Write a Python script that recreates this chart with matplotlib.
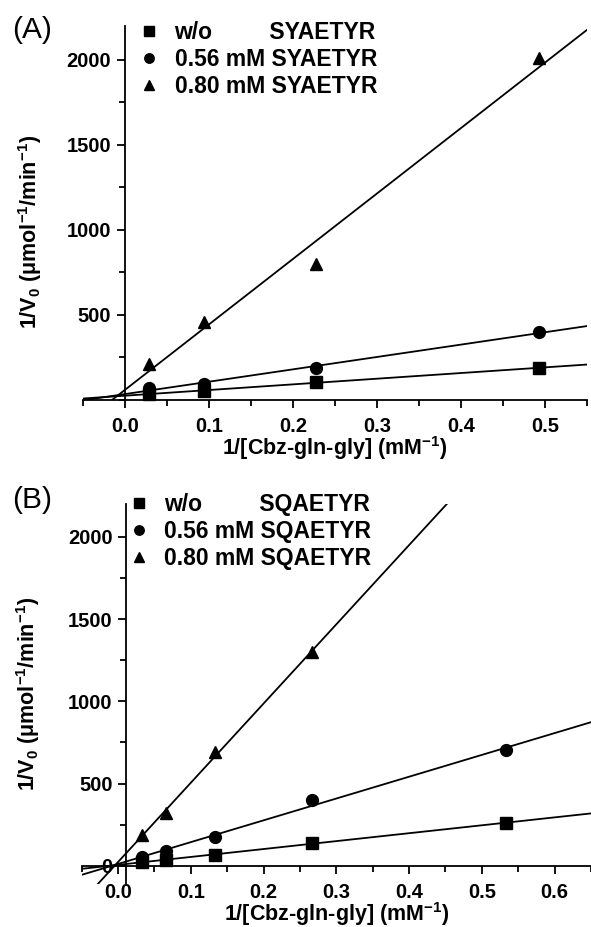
import numpy as np
import matplotlib
matplotlib.use('Agg')
import matplotlib.pyplot as plt
from matplotlib.ticker import MultipleLocator, FixedLocator

plt.rcParams['font.family'] = ['Liberation Sans', 'DejaVu Sans']
plt.rcParams['font.weight'] = 'bold'
plt.rcParams['mathtext.fontset'] = 'custom'
plt.rcParams['mathtext.rm'] = 'Liberation Sans:bold'
plt.rcParams['mathtext.it'] = 'Liberation Sans:bold'
plt.rcParams['mathtext.bf'] = 'Liberation Sans:bold'

# Panel A: SYAETYR
xa = [0.028, 0.094, 0.227, 0.493]
a_wo = [35, 53, 106, 188]
a_056 = [70, 94, 188, 400]
a_080 = [212, 459, 800, 2010]

# Panel B: SQAETYR
xb = [0.0333, 0.0667, 0.1333, 0.2667, 0.5333]
b_wo = [24, 36, 67, 140, 261]
b_056 = [55, 91, 176, 401, 705]
xb_080 = [0.0333, 0.0667, 0.1333, 0.2667]
b_080 = [188, 322, 690, 1300]

markers = ['s', 'o', '^']
conc = ['w/o         ', '0.56 mM ', '0.80 mM ']

xlabel = '1/[Cbz-gln-gly] (mM$^{-1}$)'
ylabel = '1/V$_0$ (μmol$^{-1}$/min$^{-1}$)'

fig = plt.figure(figsize=(5.91, 9.27), dpi=100)


def panel(ax, xs, ys, peptide, xlim, ylim, yspine_x, yticks, letter, leg_anchor, letter_y):
    ax.set_xlim(*xlim)
    ax.set_ylim(*ylim)
    xx = np.array(xlim)
    for x, y, m, c in zip(xs, ys, markers, conc):
        ax.plot(x, y, m, color='black', ms=8.5, linestyle='none',
                label=c + peptide, clip_on=False)
        # least-squares line through each series
        k, b = np.polyfit(x, y, 1)
        ax.plot(xx, k * xx + b, color='black', lw=1.3)
    ax.spines['top'].set_visible(False)
    ax.spines['right'].set_visible(False)
    ax.spines['left'].set_position(('data', yspine_x))
    ax.spines['bottom'].set_position(('data', 0))
    for s in ('left', 'bottom'):
        ax.spines[s].set_linewidth(1.3)
    ax.xaxis.set_major_locator(MultipleLocator(0.1))
    ax.xaxis.set_minor_locator(MultipleLocator(0.05))
    ax.yaxis.set_major_locator(FixedLocator(yticks))
    ax.yaxis.set_minor_locator(MultipleLocator(250))
    ax.tick_params(which='major', direction='out', length=6, width=1.3,
                   labelsize=14.5, pad=4)
    ax.tick_params(axis='x', which='major', pad=6)
    ax.tick_params(which='minor', direction='out', length=4, width=1.3)
    ax.xaxis.set_major_formatter(plt.FuncFormatter(lambda v, p: f'{v:.1f}'))
    ax.yaxis.set_major_formatter(plt.FuncFormatter(lambda v, p: f'{v:.0f}'))
    ax.set_xlabel(xlabel, fontsize=15.5, fontweight='bold', labelpad=-1)
    ax.set_ylabel(ylabel, fontsize=15.5, fontweight='bold')
    ax.legend(loc='upper left', bbox_to_anchor=leg_anchor,
              bbox_transform=fig.transFigure, frameon=False, fontsize=16.5,
              handlelength=0.6, handletextpad=0.8, labelspacing=0.17,
              markerscale=0.8, borderpad=0, borderaxespad=0)
    fig.text(0.02, letter_y, letter, fontsize=21.5,
             fontweight='normal', va='top')


ax1 = fig.add_axes([0.1404, 0.5685, 0.853, 0.4035])
panel(ax1, [xa, xa, xa], [a_wo, a_056, a_080], 'SYAETYR',
      (-0.05, 0.55), (0, 2200), 0.0, [500, 1000, 1500, 2000], '(A)',
      (0.241, 0.977), 0.983)
ax1.yaxis.set_label_coords(-0.078, 0.45)

ax2 = fig.add_axes([0.138, 0.0464, 0.862, 0.41])
panel(ax2, [xb, xb, xb_080], [b_wo, b_056, b_080], 'SQAETYR',
      (-0.05, 0.65), (-110, 2200), 0.0115, [0, 500, 1000, 1500, 2000], '(B)',
      (0.223, 0.468), 0.476)
ax2.yaxis.set_label_coords(-0.078, 0.5)

fig.savefig('out.png', dpi=100)
